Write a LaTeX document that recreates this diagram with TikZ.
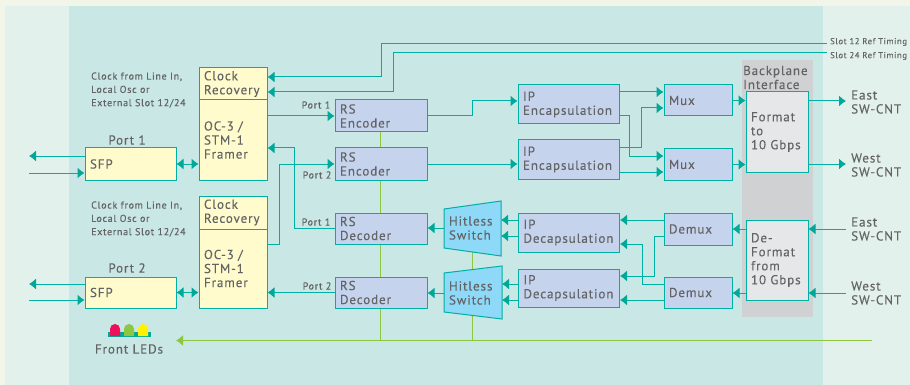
\documentclass[tikz,border=0pt]{standalone}
\usepackage{fontspec}
\setmainfont[LetterSpace=7,FakeBold=0.25]{PT Sans}
\usetikzlibrary{arrows.meta}
\definecolor{tealline}{HTML}{00B0A3}
\definecolor{tealtip}{HTML}{00A89A}
\definecolor{ledgreen}{HTML}{8DC63F}
\definecolor{ledred}{HTML}{EE0F5C}
\definecolor{ledyellow}{HTML}{FFF200}
\definecolor{labelgrey}{HTML}{636466}
\definecolor{midpanel}{HTML}{C9E7E4}
\definecolor{sidepanel}{HTML}{E3F1EC}
\definecolor{toppanel}{HTML}{F1F6E8}
\definecolor{yellowfill}{HTML}{FFFBCC}
\definecolor{bluefill}{HTML}{C5D3EC}
\definecolor{switchfill}{HTML}{8ED8F8}
\definecolor{greyfill}{HTML}{E5E7E9}
\definecolor{backplane}{HTML}{D0D1D3}
\tikzset{
    block/.style={draw=tealline,line width=1pt,inner sep=0pt,align=left,text=labelgrey,
        font=\fontsize{13}{14}\selectfont},
    yellowbox/.style={block,fill=yellowfill},
    bluebox/.style={block,fill=bluefill},
    greybox/.style={block,fill=greyfill},
    switchbox/.style={draw=tealline,line width=1pt,fill=switchfill},
    lbl/.style={text=labelgrey,align=left,anchor=west,inner sep=0pt,font=\fontsize{13}{14}\selectfont},
    smalllbl/.style={text=labelgrey,align=left,anchor=west,inner sep=0pt,font=\fontsize{10}{13.3}\selectfont},
    timinglbl/.style={smalllbl,font=\fontsize{8.6}{13}\selectfont},
    link/.style={draw=tealline,line width=1pt,-{Latex[length=7pt,width=11pt,color=tealtip]}},
    biglink/.style={link,{Latex[length=7pt,width=11pt,color=tealtip]}-{Latex[length=7pt,width=11pt,color=tealtip]}},
    ledlink/.style={draw=ledgreen,line width=1.1pt},
}
\begin{document}
\begin{tikzpicture}[x=1pt,y=-1pt]
    \useasboundingbox (0,0) rectangle (910,385);
    % panels
    \fill[toppanel] (0,0) rectangle (910,385);
    \fill[sidepanel] (5,6) rectangle (910,385);
    \fill[midpanel] (69,6) rectangle (823,385);
    \fill[backplane] (742,60) rectangle (813,317);

    % free ends
    \coordinate (sfp1out) at (29,156);
    \coordinate (sfp1in) at (29,173);
    \coordinate (sfp2out) at (29,284);
    \coordinate (sfp2in) at (29,300);
    \coordinate (slot12) at (827,44);
    \coordinate (slot24) at (827,53);
    \coordinate (eastout) at (846,101);
    \coordinate (westout) at (846,164);
    \coordinate (eastin) at (846,229);
    \coordinate (westin) at (846,293);
    \coordinate (ledend) at (872,340.5);
    \coordinate (ledstop) at (176,340.5);

    % left column
    \node[yellowbox,minimum width=91pt,minimum height=32pt,text width=81pt] (sfp1) at (130.5,164) {SFP};
    \node[yellowbox,minimum width=91pt,minimum height=31pt,text width=81pt] (sfp2) at (130.5,292.5) {SFP};
    \node[yellowbox,minimum width=68pt,minimum height=32pt,text width=58pt] (clock1) at (233,84) {Clock\\Recovery};
    \node[yellowbox,minimum width=68pt,minimum height=80pt,text width=58pt] (framer1) at (233,140) {OC-3 /\\STM-1\\Framer};
    \node[yellowbox,minimum width=68pt,minimum height=33pt,text width=58pt] (clock2) at (233,212.5) {Clock\\Recovery};
    \node[yellowbox,minimum width=68pt,minimum height=79pt,text width=58pt] (framer2) at (233,268.5) {OC-3 /\\STM-1\\Framer};

    % green lines go under the blocks
    \draw[ledlink,-{Latex[length=7pt,width=11pt,color=ledgreen]}] (ledend) -- (ledstop);
    \draw[ledlink] (380.5,116) -- (380.5,340.5);
    \draw[ledlink] (472.5,228) -- (472.5,340.5);

    % RS blocks
    \node[bluebox,minimum width=92pt,minimum height=32pt,text width=82pt] (enc1) at (381,116) {RS\\Encoder};
    \node[bluebox,minimum width=92pt,minimum height=32pt,text width=82pt] (enc2) at (381,164) {RS\\Encoder};
    \node[bluebox,minimum width=92pt,minimum height=31pt,text width=82pt] (dec1) at (381,228.5) {RS\\Decoder};
    \node[bluebox,minimum width=92pt,minimum height=31pt,text width=82pt] (dec2) at (381,292.5) {RS\\Decoder};

    % switches
    \draw[switchbox] (444,209) -- (501,201) -- (501,256) -- (444,248) -- cycle;
    \draw[switchbox] (444,273) -- (502,266) -- (502,319) -- (444,312) -- cycle;
    \node[lbl,text width=47pt,minimum width=57pt,minimum height=39pt,anchor=center,align=left,inner xsep=5pt] (sw1) at (472.5,228) {Hitless\\Switch};
    \node[lbl,text width=47pt,minimum width=57pt,minimum height=39pt,anchor=center,align=left,inner xsep=5pt] (sw2) at (472.5,293) {Hitless\\Switch};

    % IP blocks
    \node[bluebox,minimum width=101pt,minimum height=39pt,text width=91pt] (ipenc1) at (568.5,104.5) {IP\\Encapsulation};
    \node[bluebox,minimum width=101pt,minimum height=39pt,text width=91pt] (ipenc2) at (568.5,159.5) {IP\\Encapsulation};
    \node[bluebox,minimum width=101pt,minimum height=39pt,text width=91pt] (ipdec1) at (569,232.5) {IP\\Decapsulation};
    \node[bluebox,minimum width=101pt,minimum height=38pt,text width=91pt] (ipdec2) at (569,288) {IP\\Decapsulation};

    % mux blocks
    \node[bluebox,minimum width=68pt,minimum height=31pt,text width=58pt] (mux1) at (698,100.5) {Mux};
    \node[bluebox,minimum width=68pt,minimum height=31pt,text width=58pt] (mux2) at (698,164.5) {Mux};
    \node[bluebox,minimum width=68pt,minimum height=32pt,text width=58pt] (demux1) at (698,229) {Demux};
    \node[bluebox,minimum width=68pt,minimum height=31pt,text width=58pt] (demux2) at (698,292.5) {Demux};

    % backplane
    \node[greybox,minimum width=62pt,minimum height=80pt,text width=52pt] (format) at (777,132) {Format\\to\\10 Gbps};
    \node[greybox,minimum width=62pt,minimum height=80pt,text width=52pt] (deformat) at (777,260) {De-\\Format\\from\\10 Gbps};

    % ports
    \draw[link] (sfp1.west|-sfp1out) -- (sfp1out);
    \draw[link] (sfp1in) -- (sfp1.west|-sfp1in);
    \draw[link] (sfp2.west|-sfp2out) -- (sfp2out);
    \draw[link] (sfp2in) -- (sfp2.west|-sfp2in);
    \draw[biglink] (sfp1.east) -- (framer1.west|-sfp1.east);
    \draw[biglink] (sfp2.east) -- (framer2.west|-sfp2.east);

    % timing
    \draw[link] (slot12) -- (381,44) -- (381,77) -- (clock1.east|-0,77);
    \draw[link] (slot24) -- (393,53) -- (393,92) -- (clock1.east|-0,92);

    % framers to RS blocks
    \draw[link] (framer1.east|-enc1.west) -- (enc1.west);
    \draw[link] (dec1.west) -- (294,228.5) -- (294,148) -- (framer1.east|-0,148);
    \draw[link] (framer2.east|-0,244) -- (279,244) -- (279,164) -- (enc2.west);
    \draw[link] (dec2.west) -- (framer2.east|-dec2.west);

    % encode side
    \draw[link] (enc1.east) -- (472,116) -- (472,101) -- (ipenc1.west|-0,101);
    \draw[link] (enc2.east) -- (ipenc2.west|-enc2.east);
    \draw[link] (ipenc1.east|-0,92) -- (mux1.west|-0,92);
    \draw[link] (ipenc1.east|-0,116) -- (629,116) -- (629,156) -- (mux2.west|-0,156);
    \draw[link] (ipenc2.east|-0,148) -- (641,148) -- (641,108) -- (mux1.west|-0,108);
    \draw[link] (ipenc2.east|-0,172) -- (mux2.west|-0,172);
    \draw[link] (mux1.east) -- (format.west|-mux1.east);
    \draw[link] (mux2.east) -- (format.west|-mux2.east);
    \draw[link] (format.east|-eastout) -- (eastout);
    \draw[link] (format.east|-westout) -- (westout);

    % decode side
    \draw[link] (eastin) -- (deformat.east|-eastin);
    \draw[link] (westin) -- (deformat.east|-westin);
    \draw[link] (deformat.west|-eastin) -- (demux1.east|-eastin);
    \draw[link] (deformat.west|-westin) -- (demux2.east|-westin);
    \draw[link] (demux1.west|-0,220) -- (ipdec1.east|-0,220);
    \draw[link] (demux1.west|-0,236) -- (654,236) -- (654,276) -- (ipdec2.east|-0,276);
    \draw[link] (demux2.west|-0,284) -- (642,284) -- (642,244) -- (ipdec1.east|-0,244);
    \draw[link] (demux2.west|-0,300) -- (ipdec2.east|-0,300);
    \draw[link] (ipdec1.west|-0,220) -- (501,220);
    \draw[link] (ipdec1.west|-0,236) -- (501,236);
    \draw[link] (ipdec2.west|-0,284) -- (502,284);
    \draw[link] (ipdec2.west|-0,300) -- (502,300);
    \draw[link] (sw1.west) -- (dec1.east|-sw1.west);
    \draw[link] (sw2.west) -- (dec2.east|-sw2.west);

    % LEDs
    \fill[tealtip] (108,332) rectangle (151,337);
    \fill[ledred] (110,336) -- (110,329) arc (180:0:5 and -5) -- (120,336) -- cycle;
    \fill[ledgreen] (124,336) -- (124,329) arc (180:0:5 and -5) -- (134,336) -- cycle;
    \fill[ledyellow] (138,336) -- (138,329) arc (180:0:5 and -5) -- (148,336) -- cycle;

    % labels
    \node[lbl,anchor=center] (port1) at (127,140) {Port 1};
    \node[lbl,anchor=center] (port2) at (127,268) {Port 2};
    \node[lbl,anchor=center] (leds) at (129,349) {Front LEDs};
    \node[smalllbl] (clocknote1) at (91,90) {Clock from Line In,\\Local Osc or\\External Slot 12/24};
    \node[smalllbl] (clocknote2) at (91,219) {Clock from Line In,\\Local Osc or\\External Slot 12/24};
    \node[smalllbl,anchor=center] (p1a) at (316,105) {Port 1};
    \node[smalllbl,anchor=center] (p2a) at (317,175) {Port 2};
    \node[smalllbl,anchor=center] (p1b) at (316,222) {Port 1};
    \node[smalllbl,anchor=center] (p2b) at (317,286) {Port 2};
    \node[timinglbl] (slot12lbl) at (830,42) {Slot 12 Ref Timing};
    \node[timinglbl] (slot24lbl) at (830,56) {Slot 24 Ref Timing};
    \node[lbl] (backlbl) at (743,77.5) {Backplane\\Interface};
    \node[lbl] (east1) at (851,102) {East\\SW-CNT};
    \node[lbl] (west1) at (851,165) {West\\SW-CNT};
    \node[lbl] (east2) at (851,229) {East\\SW-CNT};
    \node[lbl] (west2) at (851,293) {West\\SW-CNT};
\end{tikzpicture}
\end{document}
